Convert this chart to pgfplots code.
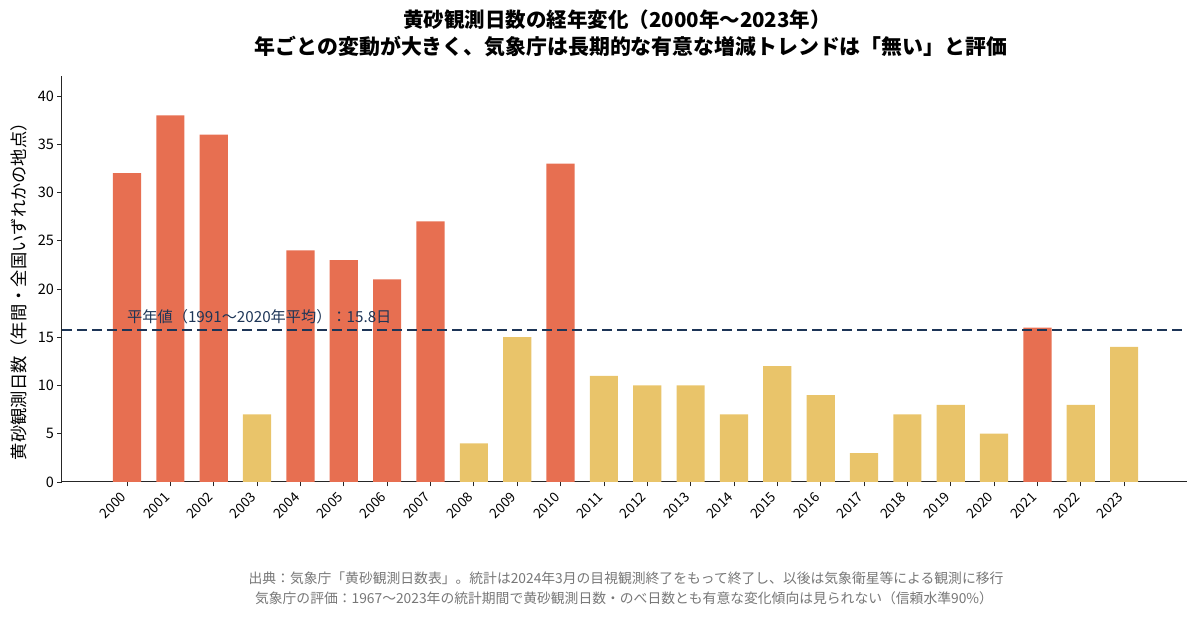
\documentclass[border=0pt]{standalone}
\usepackage{fontspec}
\setmainfont{Noto Sans CJK JP}
\usepackage{pgfplots}
\pgfplotsset{compat=1.18}
\usetikzlibrary{calc}
\definecolor{redbar}{HTML}{E76F51}
\definecolor{yelbar}{HTML}{E9C46A}
\definecolor{navy}{HTML}{1D3557}
\definecolor{foot}{HTML}{777777}
\begin{document}
\begin{tikzpicture}
\begin{axis}[
  scale only axis, width=1125pt, height=406pt,
  xmin=-1.5, xmax=24.45, ymin=0, ymax=42.07,
  axis x line*=bottom, axis y line*=left,
  axis line style={-, line width=1pt, black!85},
  ybar, bar shift=0pt, bar width=0.65,
  xtick={0,...,23},
  xticklabels={2000,2001,2002,2003,2004,2005,2006,2007,2008,2009,2010,2011,2012,2013,2014,2015,2016,2017,2018,2019,2020,2021,2022,2023},
  xticklabel style={xshift=-7pt, yshift=-3pt, rotate=45, anchor=north east, font=\fontsize{13.5}{15}\selectfont, inner sep=1pt},
  ytick={0,5,...,40},
  yticklabel style={font=\fontsize{14.5}{16}\selectfont},
  /pgf/number format/assume math mode=true,
  tick align=outside, major tick length=4.5pt,
  tick style={black!85, line width=0.8pt},
  ylabel={黄砂観測日数（年間・全国いずれかの地点）},
  ylabel style={font=\fontsize{17.3}{19}\selectfont, at={(axis description cs:0,0.48)}, anchor=south, yshift=31pt},
  clip=false,
]
\coordinate (SW) at (rel axis cs:0,0);
\addplot[fill=redbar, draw=none] coordinates {(0,32) (1,38) (2,36) (4,24) (5,23) (6,21) (7,27) (10,33) (21,16)};
\addplot[fill=yelbar, draw=none] coordinates {(3,7) (8,4) (9,15) (11,11) (12,10) (13,10) (14,7) (15,12) (16,9) (17,3) (18,7) (19,8) (20,5) (22,8) (23,14)};
\draw[navy, line width=2pt, dash pattern=on 10pt off 5pt] (axis cs:-1.5,15.8) -- (axis cs:24.45,15.8);
\node[anchor=south west, text=navy, font=\fontsize{15.2}{17}\selectfont, inner sep=0pt] at (axis cs:0,16.35) {平年値（1991〜2020年平均）：15.8日};
\end{axis}
\pgfresetboundingbox
\path[use as bounding box] ($(SW)+(-62pt,-136pt)$) rectangle ($(SW)+(1138pt,482pt)$);
\node[font=\bfseries\fontsize{20.5}{24}\selectfont] at ($(SW)+(555pt,462pt)$) {黄砂観測日数の経年変化（2000年〜2023年）};
\node[font=\bfseries\fontsize{20.9}{24}\selectfont] at ($(SW)+(569pt,435pt)$) {年ごとの変動が大きく、気象庁は長期的な有意な増減トレンドは「無い」と評価};
\node[font=\fontsize{13.8}{15}\selectfont, text=foot] at ($(SW)+(564pt,-96pt)$) {出典：気象庁「黄砂観測日数表」。統計は2024年3月の目視観測終了をもって終了し、以後は気象衛星等による観測に移行};
\node[font=\fontsize{13.8}{15}\selectfont, text=foot] at ($(SW)+(562pt,-116pt)$) {気象庁の評価：1967〜2023年の統計期間で黄砂観測日数・のべ日数とも有意な変化傾向は見られない（信頼水準90\%）};
\end{tikzpicture}
\end{document}
